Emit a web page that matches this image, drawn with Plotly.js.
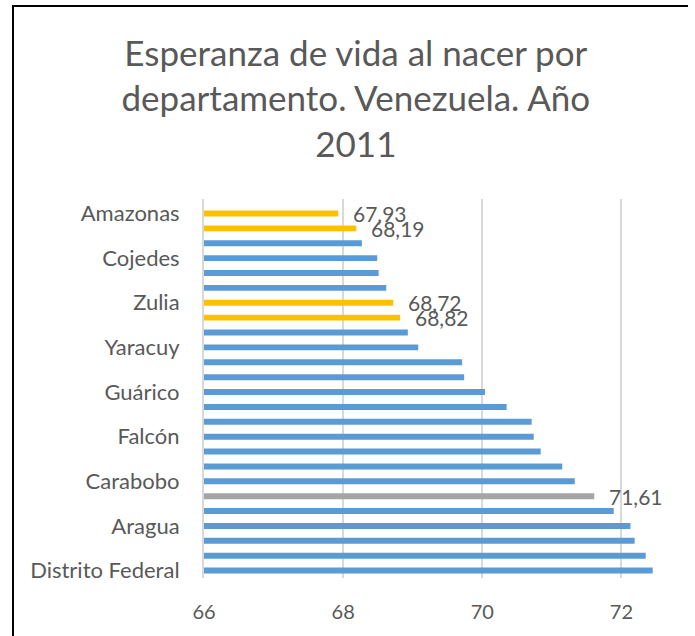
<!DOCTYPE html>
<html>
<head>
<meta charset="utf-8">
<script src="https://cdn.plot.ly/plotly-3.0.1.min.js"></script>
<style>
  html, body { margin: 0; padding: 0; background: #fff; }
  #wrap { position: relative; width: 695px; height: 636px; }
  #chart { position: absolute; left: 0; top: 0; width: 695px; height: 636px; }
  #frame { position: absolute; left: 12px; top: 5px; width: 674px; height: 640px;
           border-left: 2.5px solid #000; border-top: 2.5px solid #000; pointer-events: none; }
</style>
</head>
<body>
<div id="wrap">
  <div id="chart"></div>
  <div id="frame"></div>
</div>
<script>
// Data (top to bottom)
const categories = [
  "Amazonas", "Delta Amacuro", "Apure", "Cojedes", "Barinas", "Portuguesa",
  "Zulia", "Sucre", "Trujillo", "Yaracuy", "Monagas", "Bolívar",
  "Guárico", "Táchira", "Mérida", "Falcón", "Lara", "Anzoátegui",
  "Carabobo", "Venezuela", "Nueva Esparta", "Aragua", "Miranda", "Vargas",
  "Distrito Federal"
];
const values = [
  67.93, 68.19, 68.27, 68.49, 68.51, 68.62,
  68.72, 68.82, 68.93, 69.08, 69.71, 69.74,
  70.04, 70.35, 70.71, 70.74, 70.84, 71.15,
  71.33, 71.61, 71.89, 72.13, 72.19, 72.35,
  72.45
];
// group: "h" = highlighted (yellow), "t" = total (grey), "n" = normal (blue)
const groups = [
  "h", "h", "n", "n", "n", "n",
  "h", "h", "n", "n", "n", "n",
  "n", "n", "n", "n", "n", "n",
  "n", "t", "n", "n", "n", "n",
  "n"
];
const groupColors = { h: "#FFC000", t: "#A5A5A5", n: "#5B9BD5" };
const shownLabels = categories.filter((c, i) => i % 3 === 0);
const xTicks = [66, 68, 70, 72];

const fmt = v => v.toFixed(2).replace(".", ",");

const trace = {
  type: "bar",
  orientation: "h",
  y: categories,
  x: values,
  base: 0,
  marker: { color: groups.map(g => groupColors[g]) },
  hoverinfo: "x+y"
};

const annotations = [];
values.forEach((v, i) => {
  if (groups[i] !== "n") {
    annotations.push({
      x: v, y: categories[i], xref: "x", yref: "y",
      text: fmt(v), showarrow: false, xanchor: "left", yanchor: "middle",
      xshift: 13,
      font: { family: "Lato, 'Open Sans', sans-serif", size: 21, color: "#595959" }
    });
  }
});

const layout = {
  width: 695, height: 636,
  margin: { l: 204, r: 11, t: 199, b: 58, autoexpand: false },
  paper_bgcolor: "#ffffff",
  plot_bgcolor: "#ffffff",
  separators: ",.",
  showlegend: false,
  bargap: 0.6,
  title: {
    text: "Esperanza de vida al nacer por<br>departamento. Venezuela. Año<br>2011",
    font: { family: "Lato, 'Open Sans', sans-serif", size: 35, color: "#595959" },
    x: 0.512, xanchor: "center", xref: "container",
    y: 0.897, yanchor: "middle", yref: "container",
    automargin: false
  },
  xaxis: {
    range: [66, 72.9],
    tickvals: xTicks,
    ticktext: xTicks.map(String),
    showgrid: true, gridcolor: "#d9d9d9", gridwidth: 2,
    zeroline: false, showline: false,
    ticks: "",
    ticklabelstandoff: 20,
    automargin: false,
    tickfont: { family: "Lato, 'Open Sans', sans-serif", size: 20, color: "#595959" },
    fixedrange: true
  },
  yaxis: {
    type: "category",
    autorange: "reversed",
    tickvals: shownLabels,
    ticktext: shownLabels,
    showgrid: false,
    showline: true, linecolor: "#d9d9d9", linewidth: 2,
    ticks: "",
    ticklabelstandoff: 18,
    automargin: false,
    tickfont: { family: "Lato, 'Open Sans', sans-serif", size: 22, color: "#595959" },
    fixedrange: true
  },
  annotations: annotations
};

Plotly.newPlot("chart", [trace], layout, { displayModeBar: false, staticPlot: true });
</script>
</body>
</html>
